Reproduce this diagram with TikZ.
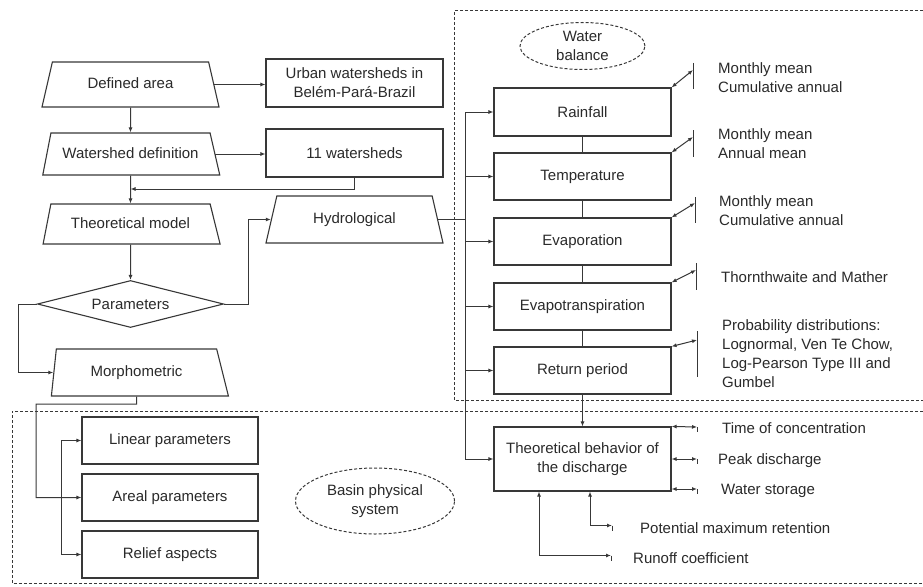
\documentclass[tikz,border=0pt]{standalone}
\usepackage{fontspec}
\setmainfont{Liberation Sans}
\usetikzlibrary{shapes.geometric,arrows.meta,calc}
\definecolor{ink}{HTML}{2A2A2A}
\definecolor{lncol}{HTML}{383838}
\begin{document}
\begin{tikzpicture}[x=1pt,y=-1pt,
  every node/.style={font=\fontsize{15}{19}\selectfont, text=ink},
  box/.style={draw=lncol, line width=1.1pt, rectangle, minimum width=177pt, minimum height=47pt, inner sep=0pt, align=center},
  trap/.style={draw=lncol, line width=1.1pt, trapezium, trapezium stretches body=true, trapezium left angle=77, trapezium right angle=77, minimum width=177pt, inner xsep=0pt, text height=11pt, text depth=3pt},
  conn/.style={draw=lncol, line width=1pt},
  arr/.style={conn, -{Latex[length=5pt,width=4pt]}},
  arrboth/.style={conn, {Latex[length=5pt,width=4pt]}-{Latex[length=5pt,width=4pt]}},
  dashbox/.style={draw=lncol, line width=1pt, dash pattern=on 3pt off 2pt},
  lbl/.style={anchor=west, align=left, inner sep=0pt}
]
\useasboundingbox[fill=white] (0,0) rectangle (923,586);

% dashed regions
\draw[dashbox] (923,11) -- (454,11) -- (454,400) -- (923,400);
\draw[dashbox] (923,411) -- (12,411) -- (12,583) -- (923,583);

% left column
\node[trap, inner ysep=15.5pt] (da) at (130.5,84.5) {Defined area};
\node[box, minimum height=48pt] (urb) at (354.5,83) {Urban watersheds in\\Belém-Pará-Brazil};
\node[trap, inner ysep=14pt, trapezium left angle=79] (wd) at (130.5,154) {Watershed definition};
\node[box, minimum height=48pt] (w11) at (354.5,153) {11 watersheds};
\node[trap, inner ysep=13pt, trapezium left angle=79, trapezium right angle=76] (tm) at (130.5,224) {Theoretical model};
\node[trap, inner ysep=16.5pt] (hyd) at (354.5,219.5) {Hydrological};
\node[diamond, draw=lncol, line width=1.1pt, minimum width=186pt, minimum height=47pt, inner sep=0pt, aspect=4] (par) at (130.5,304) {Parameters};
\node[trap, inner ysep=16.5pt, trapezium left angle=84, trapezium right angle=76] (mor) at (136.5,372.5) {Morphometric};

\node[box, minimum width=176pt] (linp) at (170,440.5) {Linear parameters};
\node[box, minimum width=176pt] (are) at (170,497.5) {Areal parameters};
\node[box, minimum width=176pt] (rel) at (170,554.5) {Relief aspects};

% right column
\node[box, minimum height=48pt] (rain) at (582.5,112) {Rainfall};
\node[box] (temp) at (582.5,176.5) {Temperature};
\node[box] (evap) at (582.5,241.5) {Evaporation};
\node[box] (evt) at (582.5,306.5) {Evapotranspiration};
\node[box] (ret) at (582.5,370.5) {Return period};
\node[box, minimum height=64pt] (tb) at (582.5,459) {Theoretical behavior of\\the discharge};

% ellipses
\node[ellipse, dashbox, minimum width=125pt, minimum height=47pt, inner sep=0pt, align=center] (wb) at (582.5,46) {Water\\balance};
\node[ellipse, dashbox, minimum width=159pt, minimum height=66pt, inner sep=0pt, align=center] (bps) at (375,501) {Basin physical\\system};

% left connectors
\draw[arr] (da.east) -- (da.east -| urb.west);
\draw[arr] (wd.east) -- (wd.east -| w11.west);
\draw[arr] (da.south) -- (wd.north);
\draw[arr] (wd.south) -- (tm.north);
\coordinate (j1) at (130.5,189);
\draw[arr] (w11.south) |- (j1);
\draw[arr] (tm.south) -- (par.north);
\coordinate (pr) at (248,304);
\draw[arr] (par.east) -- (pr) |- (hyd.west);
\coordinate (pl) at (18,304);
\draw[arr] (par.west) -- (pl) |- (mor.west);
\coordinate (m1) at (136.5,404);
\coordinate (m2) at (36,404);
\draw[arr] (mor.south) -- (m1) -- (m2) |- (are.west);
\coordinate (jb) at (61,497.5);
\draw[arr] (jb) |- (linp.west);
\draw[arr] (jb) |- (rel.west);

% bus
\coordinate (bus) at (465,0);
\draw[conn] (hyd.east) -- (hyd.east -| bus);
\draw[conn] (bus |- rain.west) -- (bus |- tb.west);
\foreach \n in {rain,temp,evap,evt,ret,tb} \draw[arr] (bus |- \n.west) -- (\n.west);
\draw[conn] (rain.south) -- (temp.north);
\draw[conn] (temp.south) -- (evap.north);
\draw[conn] (evap.south) -- (evt.north);
\draw[conn] (evt.south) -- (ret.north);
\draw[arr] (ret.south) -- (tb.north);

% diagonal outputs with bars
\coordinate (t1) at (693,70);
\draw[arrboth] (rain.north east) -- (t1);
\draw[conn] (693,63) -- (693,89);
\coordinate (t2) at (693,137);
\draw[arrboth] (temp.north east) -- (t2);
\draw[conn] (693,130) -- (693,157);
\coordinate (t3) at (695,203);
\draw[arrboth] (evap.north east) -- (t3);
\draw[conn] (695,197) -- (695,223);
\coordinate (t4) at (696,270);
\draw[arrboth] (evt.north east) -- (t4);
\draw[conn] (696,263) -- (696,290);
\coordinate (t5) at (697,340);
\draw[arrboth] (ret.north east) -- (t5);
\draw[conn] (697,331) -- (697,377);

% discharge outputs
\coordinate (o1) at (697,427);
\draw[arrboth] (tb.north east) -- (o1);
\draw[conn] (697,427) -- (697,432);
\coordinate (o2) at (697,459);
\draw[arrboth] (tb.east) -- (o2);
\draw[conn] (697,459) -- (697,464);
\coordinate (o3) at (697,489);
\draw[arrboth] (tb.east |- o3) -- (o3);
\draw[conn] (697,489) -- (697,494);

\coordinate (pm) at (612,525.5);
\coordinate (rc) at (611,555.5);
\draw[arrboth] ($(tb.south)+(7.5,0)$) |- (pm);
\draw[conn] (612,525.5) -- (612,530.5);
\draw[arrboth] ($(tb.south)+(-43.5,0)$) |- (rc);
\draw[conn] (611,555.5) -- (611,560.5);

% labels
\node[lbl] (l1) at (718,78) {Monthly mean\\Cumulative annual};
\node[lbl] (l2) at (718,144) {Monthly mean\\Annual mean};
\node[lbl] (l3) at (719,211) {Monthly mean\\Cumulative annual};
\node[lbl] (l4) at (721,277) {Thornthwaite and Mather};
\node[lbl] (l5) at (722,353.5) {Probability distributions:\\Lognormal, Ven Te Chow,\\Log-Pearson Type III and\\Gumbel};
\node[lbl] (l6) at (722,428) {Time of concentration};
\node[lbl] (l7) at (718,461) {Peak discharge};
\node[lbl] (l8) at (721,491) {Water storage};
\node[lbl] (l9) at (640,528) {Potential maximum retention};
\node[lbl] (l10) at (633,558) {Runoff coefficient};
\end{tikzpicture}
\end{document}
